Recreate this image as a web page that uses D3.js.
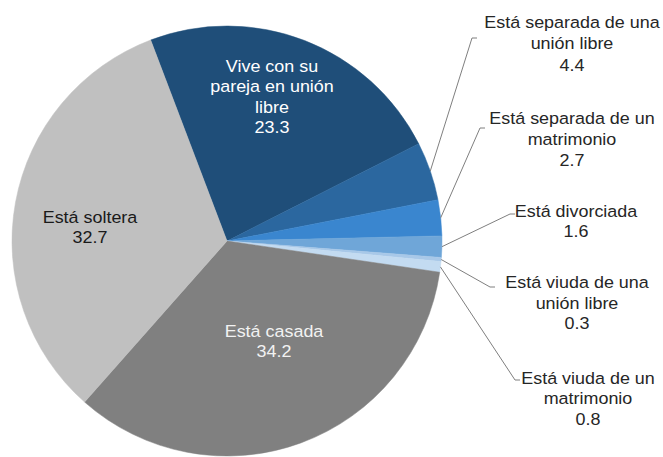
<!DOCTYPE html>
<html><head><meta charset="utf-8">
<script src="https://cdn.jsdelivr.net/npm/d3@7"></script>
<style>body{margin:0;background:#fff}svg{display:block}</style>
</head><body><svg id="c" width="663" height="457"></svg>
<script>
// ---- data ----
const categories = ["Vive con su pareja en unión libre","Está separada de una unión libre","Está separada de un matrimonio","Está divorciada","Está viuda de una unión libre","Está viuda de un matrimonio","Está casada","Está soltera"];
const values = [23.3, 4.4, 2.7, 1.6, 0.3, 0.8, 34.2, 32.7];
const labelLines = [["Vive con su","pareja en unión","libre"],["Está separada de una","unión libre"],["Está separada de un","matrimonio"],["Está divorciada"],["Está viuda de una","unión libre"],["Está viuda de un","matrimonio"],["Está casada"],["Está soltera"]];

// ---- styles / layout ----
const colors = ["#1f4e79","#2b679f","#3a86cf","#6fa6d8","#a8c8e8","#c3dbf1","#808080","#c0c0c0"];
const cx = 227, cy = 241, R = 215;
const startDeg = -20.8;
// label layout: [centerX, firstBaseline, lineHeight, fill]
const labelPos = [
  [272, 72, 20.5, "#ffffff"],
  [572, 28, 21.3, "#262626"],
  [572, 124, 21, "#262626"],
  [576, 217, 20.5, "#262626"],
  [577, 288, 20.7, "#262626"],
  [588, 384, 20.3, "#262626"],
  [274, 337, 20.5, "#f2f2f2"],
  [90, 223, 20.5, "#1a1a1a"]
];
// leader line elbows for outside labels: [elbowX, elbowY, tickEndX]
const leaders = {1:[472,38,477], 2:[480,128,485], 3:[510,214,515], 4:[490,287,495], 5:[515,380,520]};

const svg = d3.select("#c");
const g = svg.append("g").attr("transform", `translate(${cx},${cy})`);
const a0 = startDeg * Math.PI / 180;
const pie = d3.pie().sort(null).value(d => d).startAngle(a0).endAngle(a0 + 2 * Math.PI);
const arcs = pie(values);
const arc = d3.arc().innerRadius(0).outerRadius(R);
const color = d3.scaleOrdinal().domain(categories).range(colors);

g.selectAll("path.slice").data(arcs).join("path")
  .attr("class","slice")
  .attr("d", arc)
  .attr("fill", (d,i) => color(categories[i]))
  .attr("stroke", (d,i) => color(categories[i]))
  .attr("stroke-width", 0.5);

// leader lines
const edgeArc = d3.arc().innerRadius(R).outerRadius(R);
Object.keys(leaders).forEach(k => {
  const i = +k;
  const d = arcs[i];
  const mid = (d.startAngle + d.endAngle) / 2;
  const px = cx + R * Math.sin(mid), py = cy - R * Math.cos(mid);
  const [ex, ey, tx] = leaders[k];
  svg.append("polyline")
    .attr("points", `${px},${py} ${ex},${ey} ${tx},${ey}`)
    .attr("fill","none").attr("stroke","#7f7f7f").attr("stroke-width",1);
});

const fmt = d3.format(".1f");
labelLines.forEach((lines, i) => {
  const [x, y, lh, fill] = labelPos[i];
  const all = lines.concat([fmt(values[i])]);
  const t = svg.append("text")
    .attr("transform", `translate(${x},${y}) scale(1.1,1)`)
    .attr("text-anchor","middle")
    .attr("font-family","'Liberation Sans', Arial, sans-serif")
    .attr("font-size", 16.3)
    .attr("fill", fill);
  all.forEach((s, j) => {
    t.append("tspan").attr("x", 0).attr("y", j * lh).text(s);
  });
});
</script>
</body></html>
